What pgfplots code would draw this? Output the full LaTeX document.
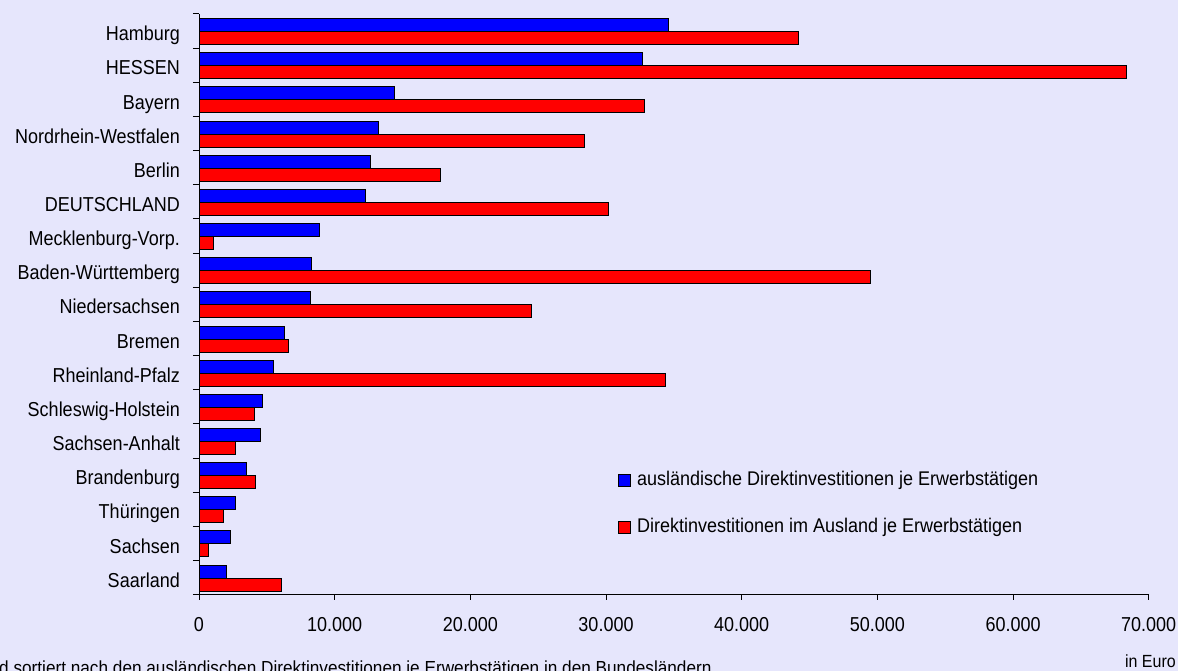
\documentclass[border=0pt]{standalone}
\usepackage{pgfplots}
\pgfplotsset{compat=1.18}
\usepackage{pgfplotstable}
\usepackage{fontspec}
\setmainfont{Liberation Sans}
\definecolor{bg}{RGB}{230,230,252}
\definecolor{barblue}{RGB}{0,0,255}
\definecolor{barred}{RGB}{255,0,0}

\pgfplotstableread{
idx aus inl
16 34600 44200
15 32700 68400
14 14400 32800
13 13200 28400
12 12650 17800
11 12300 30200
10 8900 1100
9 8300 49500
8 8200 24500
7 6300 6600
6 5500 34400
5 4700 4100
4 4500 2700
3 3500 4200
2 2700 1800
1 2350 700
0 2000 6100
}\data

\pgfplotsset{mylegend/.style={legend image code/.code={\draw[##1, draw=black, line width=1pt] (0pt,-6pt) rectangle (12pt,6pt);}}}

\begin{document}
\begin{tikzpicture}
\path[use as bounding box, fill=bg] (0,0) rectangle (1178pt,671pt);
\clip (0,0) rectangle (1178pt,671pt);
\begin{axis}[
  at={(199pt,76.3pt)}, anchor=south west,
  scale only axis, width=949.7pt, height=580.7pt,
  xmin=0, xmax=70000, ymin=-0.5, ymax=16.5,
  xbar, bar width=13pt,
  axis x line*=bottom, axis y line*=left,
  axis line style={black, line width=1pt, -},
  xtick={0,10000,...,70000},
  ytick={0,...,16},
  yticklabels={Saarland,Sachsen,Thüringen,Brandenburg,Sachsen-Anhalt,Schleswig-Holstein,Rheinland-Pfalz,Bremen,Niedersachsen,Baden-Württemberg,Mecklenburg-Vorp.,DEUTSCHLAND,Berlin,Nordrhein-Westfalen,Bayern,HESSEN,Hamburg},
  minor ytick={-0.5,0.5,...,16.5},
  tick align=outside,
  major tick length=5pt, minor tick length=6pt,
  major y tick style={draw=none},
  tick style={black, line width=1pt},
  xticklabel style={font=\fontsize{18}{21}\selectfont, yscale=1.12, anchor=north, inner sep=0pt, yshift=-16pt},
  yticklabel style={font=\fontsize{18}{21}\selectfont, yscale=1.12, anchor=base east, inner sep=0pt, xshift=-14pt, yshift=-8.6pt},
  /pgf/number format/1000 sep={.},
  /pgf/number format/assume math mode=true,
  scaled x ticks=false,
  legend style={draw=none, fill=none, at={(axis cs:30877,3.121)}, anchor=north west, inner sep=0pt, row sep=28.5pt, column sep=6pt, font=\fontsize{18}{21}\selectfont, nodes={anchor=west, inner sep=0pt, text height=13pt, text depth=4pt, yscale=1.1}},
  legend cell align=left,
]
\addplot[fill=barblue, draw=black, line width=1pt, bar shift=6pt, mylegend] table[x=aus, y=idx]{\data};
\addplot[fill=barred, draw=black, line width=1pt, bar shift=-7pt, mylegend] table[x=inl, y=idx]{\data};
\legend{ausländische Direktinvestitionen je Erwerbstätigen, Direktinvestitionen im Ausland je Erwerbstätigen}
\end{axis}
\node[anchor=base west, font=\fontsize{17.2}{20}\selectfont, yscale=1.1, inner sep=0pt] at (-1pt,-3.4pt) {d sortiert nach den ausländischen Direktinvestitionen je Erwerbstätigen in den Bundesländern};
\node[anchor=base east, font=\fontsize{16}{19}\selectfont, yscale=1.1, inner sep=0pt] at (1176pt,3pt) {in Euro};
\end{tikzpicture}
\end{document}
